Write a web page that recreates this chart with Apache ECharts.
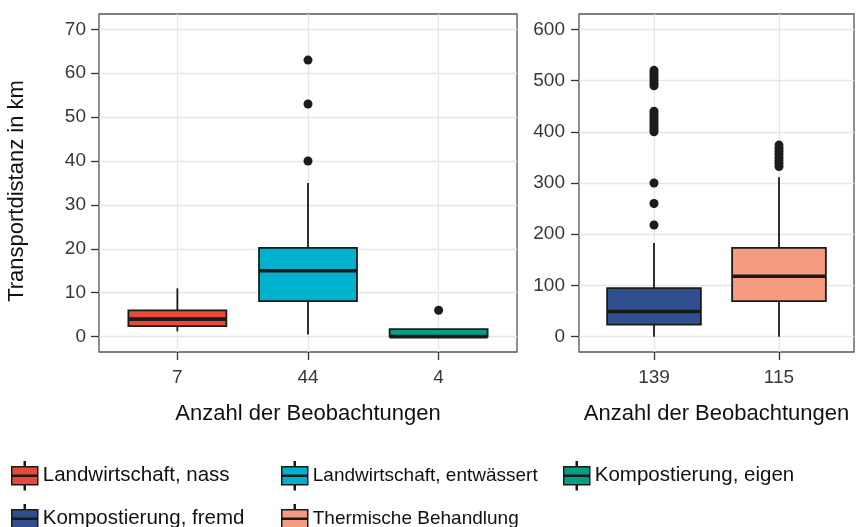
<!DOCTYPE html>
<html>
<head>
<meta charset="utf-8">
<title>Transportdistanz</title>
<script src="https://cdn.jsdelivr.net/npm/echarts@6/dist/echarts.min.js"></script>
<style>
  html, body { margin: 0; padding: 0; background: #fff; }
  #chart { width: 856px; height: 527px; }
</style>
</head>
<body>
<div id="chart"></div>
<script>
// Groups (legend entries), split over two panels
const groupNames = [
  'Landwirtschaft, nass',
  'Landwirtschaft, entwässert',
  'Kompostierung, eigen',
  'Kompostierung, fremd',
  'Thermische Behandlung'
];
const groupColors = ['#E8493A', '#00B1CD', '#00A084', '#2F4F8E', '#F49B80'];
const groupPanel = [0, 0, 0, 1, 1];

// Number of observations per group (x tick labels)
const obsCounts = [7, 44, 4, 139, 115];

// Box statistics: [lower whisker, Q1, median, Q3, upper whisker] in km
const statsNass = [1.2, 2.4, 4.0, 6.0, 11.0];
const statsEntwaessert = [0.5, 8.1, 15.0, 20.2, 35.0];
const statsEigen = [0.0, 0.0, 0.0, 1.7, 1.7];
const statsFremd = [0.0, 23.4, 49.0, 94.7, 183.0];
const statsThermisch = [0.0, 69.4, 118.0, 173.4, 311.0];

// Outliers in km
const outNass = [];
const outEntwaessert = [40, 53, 63];
const outEigen = [6];
const outFremd = [218, 260, 300, 400, 405, 410, 415, 420, 425, 430, 435, 440,
                  490, 495, 500, 505, 510, 515, 520];
const outThermisch = [332, 338, 344, 350, 356, 362, 368, 374];

// Axis tick values
const leftTicks = [0, 10, 20, 30, 40, 50, 60, 70];
const rightTicks = [0, 100, 200, 300, 400, 500, 600];

const allStats = [statsNass, statsEntwaessert, statsEigen, statsFremd, statsThermisch];
const allOutliers = [outNass, outEntwaessert, outEigen, outFremd, outThermisch];

const FONT = '"Liberation Sans", Arial, Helvetica, sans-serif';
const INK = '#1a1a1a';

// position of each group within its panel (1, 2, 3 ...)
const slot = groupPanel.map((p, i) => groupPanel.slice(0, i).filter(q => q === p).length + 1);
const panelLabels = [0, 1].map(p => obsCounts.filter((_, i) => groupPanel[i] === p).map(String));

// ggplot-like box: no whisker caps, thick median
function renderBox(params, api) {
  const x = api.value(0);
  const lo = api.coord([x, api.value(1)]);
  const q1 = api.coord([x, api.value(2)]);
  const md = api.coord([x, api.value(3)]);
  const q3 = api.coord([x, api.value(4)]);
  const hi = api.coord([x, api.value(5)]);
  const half = api.size([0.75, 0])[0] / 2;
  const cx = q1[0];
  const fill = api.visual('color');
  const children = [];
  if (hi[1] < q3[1]) {
    children.push({ type: 'line', shape: { x1: cx, y1: hi[1], x2: cx, y2: q3[1] },
      style: { stroke: INK, lineWidth: 1.8 } });
  }
  if (lo[1] > q1[1]) {
    children.push({ type: 'line', shape: { x1: cx, y1: q1[1], x2: cx, y2: lo[1] },
      style: { stroke: INK, lineWidth: 1.8 } });
  }
  children.push({ type: 'rect',
    shape: { x: cx - half, y: q3[1], width: half * 2, height: q1[1] - q3[1] },
    style: { fill: fill, stroke: INK, lineWidth: 1.8 } });
  children.push({ type: 'line', shape: { x1: cx - half, y1: md[1], x2: cx + half, y2: md[1] },
    style: { stroke: INK, lineWidth: 3.6 } });
  return { type: 'group', children: children };
}

const boxSeries = groupNames.map((name, i) => ({
  name: name,
  type: 'custom',
  xAxisIndex: groupPanel[i],
  yAxisIndex: groupPanel[i],
  itemStyle: { color: groupColors[i], borderColor: INK },
  encode: { x: 0, y: [1, 2, 3, 4, 5] },
  renderItem: renderBox,
  data: [[slot[i]].concat(allStats[i])],
  z: 2
}));

const outlierSeries = groupNames.map((name, i) => ({
  name: 'Ausreißer ' + name,
  type: 'scatter',
  xAxisIndex: groupPanel[i],
  yAxisIndex: groupPanel[i],
  symbol: 'circle',
  symbolSize: 9,
  itemStyle: { color: '#1c1c1c', opacity: 1 },
  data: allOutliers[i].map(v => [slot[i], v]),
  z: 3
}));

const LEGEND_ICON = 'path://M12.5,0 L13.5,0 L13.5,5 L12.5,5 Z M0,5 L26,5 L26,13.5 L0,13.5 Z ' +
  'M0,14.5 L26,14.5 L26,23 L0,23 Z M12.5,23 L13.5,23 L13.5,28 L12.5,28 Z';
const legendSpots = [
  { left: 11, top: 461, size: 20.5 },
  { left: 281, top: 461, size: 19 },
  { left: 563, top: 461, size: 20.5 },
  { left: 11, top: 504, size: 20.5 },
  { left: 281, top: 504, size: 19 }
];
const legends = groupNames.map((name, i) => ({
  data: [name],
  left: legendSpots[i].left,
  top: legendSpots[i].top,
  orient: 'horizontal',
  padding: 0,
  icon: LEGEND_ICON,
  itemWidth: 26,
  itemHeight: 28,
  itemStyle: { borderColor: INK, borderWidth: 1.5 },
  textStyle: { fontFamily: FONT, fontSize: legendSpots[i].size, color: '#111' },
  selectedMode: false
}));

function xAxis(p, nSlots) {
  return {
    type: 'value',
    gridIndex: p,
    min: 0.4,
    max: nSlots + 0.6,
    name: 'Anzahl der Beobachtungen',
    nameLocation: 'middle',
    nameGap: 51,
    nameTextStyle: { fontFamily: FONT, fontSize: 22, color: '#111' },
    axisLine: { show: false, onZero: false },
    axisTick: { show: true, length: 8, customValues: panelLabels[p].map((_, k) => k + 1),
      lineStyle: { color: '#333', width: 1.3 } },
    axisLabel: { customValues: panelLabels[p].map((_, k) => k + 1), margin: 16,
      formatter: v => panelLabels[p][Math.round(v) - 1] || '',
      fontFamily: FONT, fontSize: 19, color: '#383838' },
    splitLine: { show: true, lineStyle: { color: '#e6e6e6', width: 1.3 } }
  };
}

function yAxis(p, ticks, min, max, withName) {
  return {
    type: 'value',
    gridIndex: p,
    min: min,
    max: max,
    name: withName ? 'Transportdistanz in km' : '',
    nameLocation: 'middle',
    nameGap: 71,
    nameTextStyle: { fontFamily: FONT, fontSize: 22, color: '#111', padding: [0, 16, 0, 0] },
    axisLine: { show: false, onZero: false },
    axisTick: { show: true, length: 8, customValues: ticks,
      lineStyle: { color: '#333', width: 1.3 } },
    axisLabel: { customValues: ticks, margin: p === 0 ? 13 : 14,
      fontFamily: FONT, fontSize: 19, color: '#383838' },
    splitLine: { show: true, lineStyle: { color: '#e6e6e6', width: 1.3 } }
  };
}

const option = {
  animation: false,
  backgroundColor: '#ffffff',
  grid: [
    { left: 99, top: 14, width: 418, height: 338, show: true,
      borderColor: '#555', borderWidth: 1.3, backgroundColor: 'transparent' },
    { left: 579, top: 14, width: 275, height: 338, show: true,
      borderColor: '#555', borderWidth: 1.3, backgroundColor: 'transparent' }
  ],
  legend: legends,
  xAxis: [xAxis(0, 3), xAxis(1, 2)],
  yAxis: [
    yAxis(0, leftTicks, -3.5, 73.5, true),
    yAxis(1, rightTicks, -30, 630, false)
  ],
  series: boxSeries.concat(outlierSeries.filter(s => s.data.length > 0))
};

const chart = echarts.init(document.getElementById('chart'), null, { renderer: 'canvas' });
chart.setOption(option);
</script>
</body>
</html>
